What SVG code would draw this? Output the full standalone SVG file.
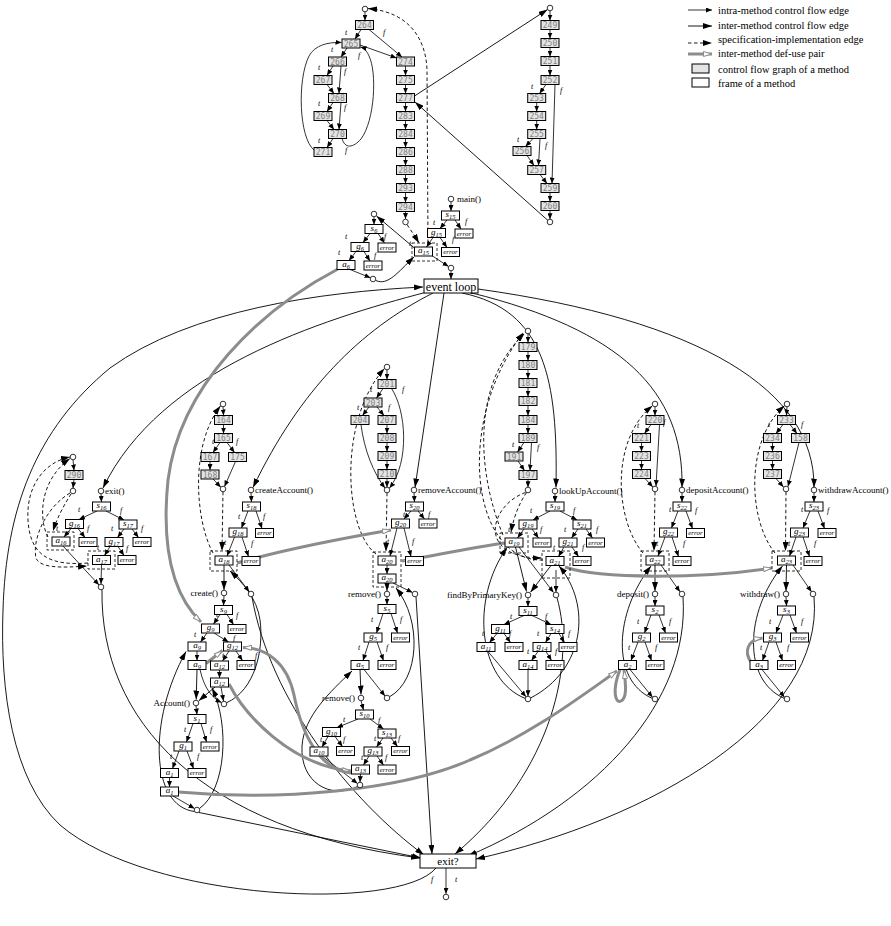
<svg xmlns="http://www.w3.org/2000/svg" width="891" height="926" viewBox="0 0 891 926">
<defs>
<style>
.n rect{fill:#fff;stroke:#000;stroke-width:1}
.n text{font-family:"Liberation Serif",serif;font-style:italic;font-size:9px;text-anchor:middle;fill:#000}
.n .s{font-size:6.5px}
.er text{font-size:7px}
.c rect{fill:#e4e4e4;stroke:#000;stroke-width:1}
.c text{font-family:"DejaVu Sans Mono",monospace;font-size:8px;fill:#808080;text-anchor:middle}
circle{fill:#fff;stroke:#000;stroke-width:0.8}
.fr{fill:none;stroke:#000;stroke-width:0.8;stroke-dasharray:3,2}
.e{fill:none;stroke:#000;stroke-width:0.8;marker-end:url(#ma)}
.i{fill:none;stroke:#000;stroke-width:0.9;marker-end:url(#mb)}
.d{fill:none;stroke:#000;stroke-width:0.9;stroke-dasharray:3.5,2.5;marker-end:url(#mb)}
.u{fill:none;stroke:#8c8c8c;stroke-width:3;marker-end:url(#mo)}
.l{font-family:"Liberation Serif",serif;font-style:italic;font-size:8px;fill:#000}
.t{font-family:"Liberation Serif",serif;font-size:9px;fill:#000}
.te{font-family:"Liberation Serif",serif;font-size:9px;text-anchor:end;fill:#000}
.lg{font-family:"Liberation Serif",serif;font-size:10.5px;fill:#000}
</style>
<marker id="ma" viewBox="0 0 6 5" refX="6" refY="2.5" markerWidth="6" markerHeight="5" markerUnits="userSpaceOnUse" orient="auto"><path d="M0,0L6,2.5L0,5z"/></marker>
<marker id="mb" viewBox="0 0 9 6" refX="9" refY="3" markerWidth="9" markerHeight="6" markerUnits="userSpaceOnUse" orient="auto"><path d="M0,0L9,3L0,6z"/></marker>
<marker id="mo" viewBox="0 0 9 6" refX="9" refY="3" markerWidth="9" markerHeight="6" markerUnits="userSpaceOnUse" orient="auto"><path d="M0.5,0.5L8.5,3L0.5,5.5z" fill="#fff" stroke="#8c8c8c"/></marker>
</defs>
<rect width="891" height="926" fill="#fff"/>

<!-- legend -->
<g id="legend">
<path class="e" d="M688,10L712,10"/>
<path class="i" d="M688,26L712,26"/>
<path class="d" d="M688,43L712,43"/>
<path class="u" d="M688,54L712,54"/>
<rect x="692" y="64" width="17" height="9" fill="#e4e4e4" stroke="#000"/>
<rect x="692" y="78" width="17" height="9" fill="#fff" stroke="#000"/>
<text class="lg" x="718" y="13.5">intra-method control flow edge</text>
<text class="lg" x="718" y="28.5">inter-method control flow edge</text>
<text class="lg" x="718" y="43">specification-implementation edge</text>
<text class="lg" x="718" y="57">inter-method def-use pair</text>
<text class="lg" x="718" y="72.5">control flow graph of a method</text>
<text class="lg" x="718" y="86.5">frame of a method</text>
</g>

<!-- connectors -->
<g id="connectors">
<!-- top-left CFG -->
<path class="e" d="M365,11.8L365,20.5"/>
<path class="e" d="M361,29.5L355,39"/>
<path class="e" d="M369,29.5L402,57"/>
<path class="e" d="M360,45L396.5,58"/>
<path class="e" d="M347,48L341,57"/>
<path class="e" d="M333,66L327,75.5"/>
<path class="e" d="M341,66L339,93.5"/>
<path class="e" d="M327,84.5L334,93.5"/>
<path class="e" d="M333,102.5L327,111.5"/>
<path class="e" d="M341,102.5L339,129.5"/>
<path class="e" d="M327,120.5L334,129.5"/>
<path class="e" d="M333,138.5L327,147.5"/>
<path class="e" d="M342,138.5C345,149 353,148 361,139C375,120 377,72 369,56C367,51 364,48 360.5,47"/>
<path class="e" d="M314,150C299,138 297,80 309,56C315,45 328,42 341.5,42.5"/>
<path class="e" d="M405.5,66L405.5,75.5"/>
<path class="e" d="M405.5,84.5L405.5,93.5"/>
<path class="e" d="M405.5,102.5L405.5,111.5"/>
<path class="e" d="M405.5,120.5L405.5,129.5"/>
<path class="e" d="M405.5,138.5L405.5,147.5"/>
<path class="e" d="M405.5,156.5L405.5,165.5"/>
<path class="e" d="M405.5,174.5L405.5,183.5"/>
<path class="e" d="M405.5,192.5L405.5,202.5"/>
<path class="e" d="M405.5,211.5L405.5,219"/>
<path class="i" d="M414.5,96L547.5,9.5"/>
<path class="i" d="M548,220.5L415,102"/>
<!-- top-right CFG -->
<path class="e" d="M550,10.8L550,20.5"/>
<path class="e" d="M550,29.5L550,38.5"/>
<path class="e" d="M550,47.5L550,56.5"/>
<path class="e" d="M550,65.5L550,75.5"/>
<path class="e" d="M546,84.5L539.5,93.5"/>
<path class="e" d="M555,84.5L552,183.5"/>
<path class="e" d="M536.7,102.5L536.7,111.5"/>
<path class="e" d="M536.7,120.5L536.7,129.5"/>
<path class="e" d="M533,138.5L525.5,146.5"/>
<path class="e" d="M540,138.5L538.5,165.5"/>
<path class="e" d="M527,155.5L534,165.5"/>
<path class="e" d="M540,174.5L547,183.5"/>
<path class="e" d="M550,192.5L550,201.5"/>
<path class="e" d="M550,210.5L550,219.2"/>
<!-- main -->
<path class="e" d="M451,201.8L451,211"/>
<path class="e" d="M447,220L440,228.5"/>
<path class="e" d="M455,220L461,229"/>
<path class="e" d="M433,237.5L426.5,247"/>
<path class="e" d="M440,237.5L447,247.5"/>
<path class="e" d="M431,255L448.5,266.5"/>
<path class="e" d="M451,270.8L451,279"/>
<path class="i" d="M415,248.5L376.5,216"/>
<path class="i" d="M375.8,280.5C388,286 398,272 414,257"/>
<path class="d" d="M428,243L427,70C426,40 410,12 368,8.6"/>
<path class="d" d="M407,224.5C412,232 416,238 419,243"/>
<!-- s6 -->
<path class="e" d="M374,216.8L374,224.5"/>
<path class="e" d="M370,233.5L363,242.5"/>
<path class="e" d="M378,233.5L384.5,243"/>
<path class="e" d="M356,251.5L349,260.5"/>
<path class="e" d="M364,251.5L370,261"/>
<path class="e" d="M350,269.5L370.5,277.8"/>
<!-- event loop -->
<path class="i" d="M427,292C320,320 160,370 103,488"/>
<path class="i" d="M433,293C360,330 300,390 253,487.5"/>
<path class="i" d="M444,293L415,487.5"/>
<path class="i" d="M462,293C545,310 558,380 556,487.5"/>
<path class="i" d="M472,293C620,330 684,390 682,487.5"/>
<path class="i" d="M478,289C700,320 815,390 814,487.5"/>
<path class="i" d="M436,868C400,912 150,902 60,825C12,780 0,690 3,610C6,510 35,430 110,368C190,310 320,292 423,287"/>
<path class="e" d="M446,868L446,893.8"/>
<!-- exit() -->
<path class="e" d="M101,493.8L101.5,502"/>
<path class="e" d="M97,511L79,519.5"/>
<path class="e" d="M106,511L124,520"/>
<path class="e" d="M71,528.5L64,537"/>
<path class="e" d="M78,528.5L85,537.5"/>
<path class="e" d="M124,529L117.5,537.5"/>
<path class="e" d="M132,529L138.5,537.5"/>
<path class="e" d="M110,546.5L104.5,555.5"/>
<path class="e" d="M118,546.5L124,555.5"/>
<path class="e" d="M63,546L99,585"/>
<path class="e" d="M101.5,564.5L101,584"/>
<path class="e" d="M73,459.8L74,470.5"/>
<path class="e" d="M74,479.5L73,488.2"/>
<path class="d" d="M71,494C64,505 57,518 53,531"/>
<path class="d" d="M70,493C45,508 32,540 36,558C40,568 60,568 87,566"/>
<path class="d" d="M48,537C38,518 40,480 70,458.5"/>
<path class="d" d="M88,563C50,566 30,556 28,520C26,485 45,462 70,457"/>
<path class="i" d="M102,590C100,720 200,830 420,858"/>
<!-- createAccount -->
<path class="e" d="M251,492.8L251.5,502"/>
<path class="e" d="M248,511L241.5,528"/>
<path class="e" d="M256,511L262,528.5"/>
<path class="e" d="M234.5,537L227,556"/>
<path class="e" d="M242,537L248.5,556.5"/>
<path class="e" d="M223,406.8L223.5,415.5"/>
<path class="e" d="M223.5,424.5L223.5,433.5"/>
<path class="e" d="M220,442.5L213,452.5"/>
<path class="e" d="M227,442.5L234.5,452.5"/>
<path class="e" d="M210,461.5L210,470"/>
<path class="e" d="M213,479L220.8,487.2"/>
<path class="e" d="M235.5,461.5L224.5,486.5"/>
<path class="d" d="M213,553C195,520 190,445 220.5,406"/>
<path class="d" d="M223,491.8L222,551"/>
<path class="i" d="M224,565L224,590"/>
<path class="e" d="M229,565L249.2,591.8"/>
<path class="i" d="M226.5,702.8C255,690 264,650 260,620C257,598 242,582 230,571"/>
<path class="i" d="M252,597C270,700 350,800 424,855"/>
<!-- create -->
<path class="e" d="M224,595.8L223.5,605.5"/>
<path class="e" d="M220,614.5L213.5,624"/>
<path class="e" d="M227,614.5L233.5,624.5"/>
<path class="e" d="M207,633L200.5,642"/>
<path class="e" d="M214,633L228.5,642"/>
<path class="e" d="M197,651L197,660.5"/>
<path class="e" d="M229,651L222.5,661"/>
<path class="e" d="M236,651L242.5,660.5"/>
<path class="e" d="M219.5,670L219.5,678"/>
<path class="i" d="M197,669.5L196.2,699.5"/>
<path class="i" d="M215,687L198.8,700.8"/>
<path class="e" d="M221,687L223.5,701"/>
<path class="e" d="M200,669.5C204,688 212,698 221.5,702.5"/>
<path class="i" d="M194.5,811.5C150,806 148,720 186,651.5"/>
<path class="i" d="M199.5,808.5C226,790 230,725 212,688"/>
<!-- Account -->
<path class="e" d="M196,705.8L197,714.5"/>
<path class="e" d="M193,723.5L186.5,742"/>
<path class="e" d="M201,723.5L206.5,742"/>
<path class="e" d="M179,751L172.5,768.5"/>
<path class="e" d="M187,751L193.5,768.5"/>
<path class="e" d="M169.5,777.5L169.5,787"/>
<path class="e" d="M173,796L194.5,808.5"/>
<path class="i" d="M199,812.5L421,858"/>
<!-- removeAccount -->
<path class="e" d="M414,492.8L414.5,502"/>
<path class="e" d="M411,511L404,519"/>
<path class="e" d="M418,511L424.5,519"/>
<path class="e" d="M397,528L390,556"/>
<path class="e" d="M404,528L411,556.5"/>
<path class="e" d="M387,565L387,574"/>
<path class="e" d="M387,369.8L387,379.5"/>
<path class="e" d="M383,388.5L376.5,398"/>
<path class="e" d="M391.5,388.5C406,410 410,462 389.5,488"/>
<path class="e" d="M369,407L362.5,415.5"/>
<path class="e" d="M377,407L384,415.5"/>
<path class="e" d="M361,424.5C364,450 374,474 385,488"/>
<path class="e" d="M387,424.5L387,433.5"/>
<path class="e" d="M387,442.5L387,451.5"/>
<path class="e" d="M387,460.5L387,469.5"/>
<path class="e" d="M387,478.5L387,487.2"/>
<path class="d" d="M376,554C344,530 338,420 384.5,368.5"/>
<path class="d" d="M387,492.8L386,551.5"/>
<path class="i" d="M387,583L387,591"/>
<path class="e" d="M393,583L412.5,592.5"/>
<path class="i" d="M389.5,696.8C420,680 422,620 396,588"/>
<path class="i" d="M416,596.8L432,854"/>
<!-- remove s5 -->
<path class="e" d="M387,596.8L387,604.5"/>
<path class="e" d="M383,613.5L376.5,633"/>
<path class="e" d="M391,613.5L397.5,633"/>
<path class="e" d="M369,642L363,660.5"/>
<path class="e" d="M377,642L383.5,660.5"/>
<path class="i" d="M360,669.5L361,694.5"/>
<path class="e" d="M364,669.5L385,696"/>
<path class="i" d="M357.5,786.5C330,800 300,782 302,746C304,716 330,692 352,671"/>
<!-- remove s10 -->
<path class="e" d="M361,700.8L363.5,710"/>
<path class="e" d="M358,719L337,727.5"/>
<path class="e" d="M370,719L383.5,729"/>
<path class="e" d="M328,736.5L322,747"/>
<path class="e" d="M335,736.5L342.5,746.5"/>
<path class="e" d="M383,738L376.5,747"/>
<path class="e" d="M391,738L397.5,746.5"/>
<path class="e" d="M369,756L363.5,765"/>
<path class="e" d="M377,756L383.5,765"/>
<path class="e" d="M322,756L357.5,783.5"/>
<path class="e" d="M360.5,774L360,782.2"/>
<!-- lookUp -->
<path class="e" d="M555,493.8L555,502"/>
<path class="e" d="M550,511L533,520"/>
<path class="e" d="M560,511L577,520"/>
<path class="e" d="M524,529L517.5,538"/>
<path class="e" d="M532,529L538.5,538"/>
<path class="e" d="M578,529L571.5,538"/>
<path class="e" d="M586,529L592.5,538"/>
<path class="e" d="M564,547L558.5,556.5"/>
<path class="e" d="M572,547L578.5,556.5"/>
<path class="e" d="M528,333.8L528,342.5"/>
<path class="e" d="M528,351.5L528,360.5"/>
<path class="e" d="M528,369.5L528,378.5"/>
<path class="e" d="M528,387.5L528,396.5"/>
<path class="e" d="M528,405.5L528,415.5"/>
<path class="e" d="M528,424.5L528,433.5"/>
<path class="e" d="M524,442.5L517.5,452"/>
<path class="e" d="M531.5,442.5L530,470.5"/>
<path class="e" d="M518,461L524.5,470.5"/>
<path class="e" d="M528,479.5L528,487.2"/>
<path class="d" d="M503,535C478,475 470,385 524.5,333.5"/>
<path class="d" d="M543,560C470,562 455,420 523.5,332.5"/>
<path class="d" d="M526.5,492.6C518,505 513,520 511,532.5"/>
<path class="d" d="M525.5,492.5C490,505 475,558 541.5,558"/>
<path class="i" d="M515.5,547L526.5,591.5"/>
<path class="i" d="M551,565.5L530.5,592.2"/>
<path class="e" d="M519,547L553.5,592.5"/>
<path class="e" d="M556,570L556,592"/>
<path class="i" d="M525.5,698.5C478,680 470,600 507,547.5"/>
<path class="i" d="M530.5,698C585,670 592,605 559,566"/>
<path class="i" d="M557,597.8C575,660 555,770 455,854"/>
<!-- findBy -->
<path class="e" d="M528,597.8L528,606.5"/>
<path class="e" d="M524,615.5L504,624.5"/>
<path class="e" d="M532,615.5L551,624.5"/>
<path class="e" d="M497,633.5L489.5,642.5"/>
<path class="e" d="M504,633.5L510.5,642.5"/>
<path class="e" d="M551,633.5L545.5,642.5"/>
<path class="e" d="M559,633.5L564.5,642.5"/>
<path class="e" d="M538,651.5L531.5,660.5"/>
<path class="e" d="M546,651.5L551.5,660.5"/>
<path class="e" d="M488,651.5L526,696.8"/>
<path class="e" d="M528,669.5L528,696.2"/>
<!-- depositAccount -->
<path class="e" d="M682,492.8L682,502"/>
<path class="e" d="M678,511L671.5,528"/>
<path class="e" d="M686,511L692.5,528.5"/>
<path class="e" d="M665,537L658,556"/>
<path class="e" d="M672,537L678.5,556.5"/>
<path class="e" d="M655,406.8L655,415.5"/>
<path class="e" d="M651,424.5L644.5,433.5"/>
<path class="e" d="M659.5,424.5L656,486.2"/>
<path class="e" d="M641.5,442.5L641.5,451.5"/>
<path class="e" d="M641.5,460.5L641.5,469.5"/>
<path class="e" d="M645,478.5L652.8,487"/>
<path class="d" d="M643,553C615,520 610,440 652.5,405.8"/>
<path class="d" d="M655,491.8L654,551"/>
<path class="i" d="M655,565L655,591"/>
<path class="e" d="M661,565L680,591.8"/>
<path class="i" d="M652.5,698.5C610,680 615,612 651,566"/>
<path class="i" d="M683,596.8C690,700 600,800 468,856"/>
<!-- deposit -->
<path class="e" d="M655,596.8L655,606"/>
<path class="e" d="M651,615L644.5,633"/>
<path class="e" d="M659,615L665.5,633"/>
<path class="e" d="M638,642L631,660.5"/>
<path class="e" d="M645,642L651.5,660.5"/>
<path class="e" d="M630,669.5L652.5,697.2"/>
<!-- withdrawAccount -->
<path class="e" d="M814,492.8L814,502"/>
<path class="e" d="M810,511L803,528"/>
<path class="e" d="M818,511L824.5,528.5"/>
<path class="e" d="M796,537L789.5,556"/>
<path class="e" d="M803,537L809.5,556.5"/>
<path class="e" d="M787,406.8L786.5,415.5"/>
<path class="e" d="M783,424.5L776,433.5"/>
<path class="e" d="M790,424.5L797,433.5"/>
<path class="e" d="M772.5,442.5L772.5,451.5"/>
<path class="e" d="M772.5,460.5L772.5,469.5"/>
<path class="e" d="M776,478.5L783.5,487"/>
<path class="e" d="M799,442.5L788,486.5"/>
<path class="d" d="M775,553C748,520 745,440 784.5,405.8"/>
<path class="d" d="M786,491.8L785.5,551"/>
<path class="i" d="M786.5,565L786,591"/>
<path class="e" d="M793,565L811.5,591.8"/>
<path class="i" d="M784.5,698.5C742,680 745,612 782.5,566"/>
<path class="i" d="M814,596.8C825,720 650,820 476,859"/>
<!-- withdraw -->
<path class="e" d="M786,596.8L786.5,606"/>
<path class="e" d="M783,615L776,633"/>
<path class="e" d="M790,615L796.5,633"/>
<path class="e" d="M769,642L762.5,660.5"/>
<path class="e" d="M776,642L782.5,660.5"/>
<path class="e" d="M762,669.5L784.5,697.2"/>
<!-- def-use pairs -->
<path class="u" d="M338,269C260,310 180,385 168,480C160,560 178,600 201,622"/>
<path class="u" d="M237,563C290,548 350,537 391,530"/>
<path class="u" d="M505,543C470,548 432,556 402,561"/>
<path class="u" d="M565,567C600,579 700,579 772,568"/>
<path class="u" d="M229,684C245,715 290,765 351,771"/>
<path class="u" d="M351,773C320,770 302,735 294,695C287,662 266,648 243,647.5"/>
<path class="u" d="M178,792C280,801 400,791 470,760C530,735 580,697 617,671"/>
<path class="u" d="M620,669.5C612,690 615,704 621,701C627,698 626,686 624,670"/>
<path class="u" d="M206,663.5L222.5,650.5"/>
<path class="u" d="M751,662C744,652 747,640 762.5,638"/>
</g>

<!-- edge labels -->
<g id="labels">
<text class="l" x="345" y="35">t</text><text class="l" x="383" y="35">f</text>
<text class="l" x="331" y="52">t</text><text class="l" x="358" y="58">f</text>
<text class="l" x="318" y="70">t</text><text class="l" x="344" y="74">f</text>
<text class="l" x="318" y="106">t</text><text class="l" x="344" y="110">f</text>
<text class="l" x="318" y="143">t</text><text class="l" x="345" y="153">f</text>
<text class="l" x="531" y="89">t</text><text class="l" x="560" y="93">f</text>
<text class="l" x="517" y="142">t</text><text class="l" x="545" y="148">f</text>
<text class="l" x="433" y="225">t</text><text class="l" x="465" y="224">f</text>
<text class="l" x="409" y="246">t</text><text class="l" x="452" y="242">f</text>
<text class="l" x="345" y="239">t</text><text class="l" x="384" y="239">f</text>
<text class="l" x="338" y="255">t</text><text class="l" x="374" y="258">f</text>
<text class="l" x="431" y="882">f</text><text class="l" x="455" y="882">t</text>
<text class="l" x="78" y="512">t</text><text class="l" x="120" y="513">f</text>
<text class="l" x="56" y="531">t</text><text class="l" x="87" y="531">f</text>
<text class="l" x="111" y="531">t</text><text class="l" x="141" y="531">f</text>
<text class="l" x="97" y="550">t</text><text class="l" x="126" y="551">f</text>
<text class="l" x="238" y="519">t</text><text class="l" x="263" y="519">f</text>
<text class="l" x="224" y="545">t</text><text class="l" x="251" y="546">f</text>
<text class="l" x="212" y="444">t</text><text class="l" x="236" y="444">f</text>
<text class="l" x="216" y="617">t</text><text class="l" x="236" y="618">f</text>
<text class="l" x="194" y="637">t</text><text class="l" x="233" y="641">f</text>
<text class="l" x="222" y="658">t</text><text class="l" x="255" y="658">f</text>
<text class="l" x="184" y="732">t</text><text class="l" x="210" y="732">f</text>
<text class="l" x="170" y="759">t</text><text class="l" x="197" y="759">f</text>
<text class="l" x="403" y="517">t</text><text class="l" x="428" y="517">f</text>
<text class="l" x="387" y="544">t</text><text class="l" x="412" y="544">f</text>
<text class="l" x="370" y="392">t</text><text class="l" x="402" y="392">f</text>
<text class="l" x="357" y="410">t</text><text class="l" x="388" y="410">f</text>
<text class="l" x="371" y="622">t</text><text class="l" x="400" y="622">f</text>
<text class="l" x="358" y="650">t</text><text class="l" x="386" y="650">f</text>
<text class="l" x="343" y="722">t</text><text class="l" x="378" y="723">f</text>
<text class="l" x="320" y="742">t</text><text class="l" x="343" y="742">f</text>
<text class="l" x="374" y="741">t</text><text class="l" x="398" y="741">f</text>
<text class="l" x="361" y="760">t</text><text class="l" x="385" y="760">f</text>
<text class="l" x="530" y="513">t</text><text class="l" x="573" y="513">f</text>
<text class="l" x="508" y="532">t</text><text class="l" x="540" y="532">f</text>
<text class="l" x="564" y="532">t</text><text class="l" x="596" y="532">f</text>
<text class="l" x="553" y="550">t</text><text class="l" x="582" y="550">f</text>
<text class="l" x="512" y="447">t</text><text class="l" x="537" y="450">f</text>
<text class="l" x="510" y="619">t</text><text class="l" x="545" y="619">f</text>
<text class="l" x="482" y="636">t</text><text class="l" x="509" y="636">f</text>
<text class="l" x="537" y="636">t</text><text class="l" x="568" y="636">f</text>
<text class="l" x="527" y="654">t</text><text class="l" x="555" y="654">f</text>
<text class="l" x="669" y="512">t</text><text class="l" x="695" y="513">f</text>
<text class="l" x="656" y="546">t</text><text class="l" x="683" y="546">f</text>
<text class="l" x="637" y="428">t</text><text class="l" x="663" y="425">f</text>
<text class="l" x="637" y="624">t</text><text class="l" x="669" y="624">f</text>
<text class="l" x="628" y="650">t</text><text class="l" x="655" y="650">f</text>
<text class="l" x="801" y="512">t</text><text class="l" x="827" y="513">f</text>
<text class="l" x="788" y="546">t</text><text class="l" x="814" y="546">f</text>
<text class="l" x="768" y="427">t</text><text class="l" x="801" y="427">f</text>
<text class="l" x="769" y="624">t</text><text class="l" x="801" y="624">f</text>
<text class="l" x="760" y="650">t</text><text class="l" x="787" y="650">f</text>
</g>

<!-- top-left CFG nodes -->
<g id="cfgTL">
<circle cx="365" cy="9" r="2.8"/><circle cx="405.5" cy="222" r="2.8"/>
<g id="c264" class="c"><rect x="355.5" y="20.5" width="18" height="9"/><text x="364.5" y="28">264</text></g>
<g id="c265" class="c"><rect x="342" y="39" width="18" height="9"/><text x="351" y="46.5">265</text></g>
<g id="c266" class="c"><rect x="328.5" y="57" width="18" height="9"/><text x="337.5" y="64.5">266</text></g>
<g id="c267" class="c"><rect x="314" y="75.5" width="18" height="9"/><text x="323" y="83">267</text></g>
<g id="c268" class="c"><rect x="328.5" y="93.5" width="18" height="9"/><text x="337.5" y="101">268</text></g>
<g id="c269" class="c"><rect x="314" y="111.5" width="18" height="9"/><text x="323" y="119">269</text></g>
<g id="c270" class="c"><rect x="328.5" y="129.5" width="18" height="9"/><text x="337.5" y="137">270</text></g>
<g id="c271" class="c"><rect x="314" y="147.5" width="18" height="9"/><text x="323" y="155">271</text></g>
<g id="c274" class="c"><rect x="396.5" y="57" width="18" height="9"/><text x="405.5" y="64.5">274</text></g>
<g id="c275" class="c"><rect x="396.5" y="75.5" width="18" height="9"/><text x="405.5" y="83">275</text></g>
<g id="c277" class="c"><rect x="396.5" y="93.5" width="18" height="9"/><text x="405.5" y="101">277</text></g>
<g id="c283" class="c"><rect x="396.5" y="111.5" width="18" height="9"/><text x="405.5" y="119">283</text></g>
<g id="c284" class="c"><rect x="396.5" y="129.5" width="18" height="9"/><text x="405.5" y="137">284</text></g>
<g id="c286" class="c"><rect x="396.5" y="147.5" width="18" height="9"/><text x="405.5" y="155">286</text></g>
<g id="c288" class="c"><rect x="396.5" y="165.5" width="18" height="9"/><text x="405.5" y="173">288</text></g>
<g id="c293" class="c"><rect x="396.5" y="183.5" width="18" height="9"/><text x="405.5" y="191">293</text></g>
<g id="c294" class="c"><rect x="396.5" y="202.5" width="18" height="9"/><text x="405.5" y="210">294</text></g>
</g>

<!-- top-right CFG nodes -->
<g id="cfgTR">
<circle cx="550" cy="8" r="2.8"/><circle cx="550" cy="222" r="2.8"/>
<g id="c249" class="c"><rect x="541" y="20.5" width="18" height="9"/><text x="550" y="28">249</text></g>
<g id="c250" class="c"><rect x="541" y="38.5" width="18" height="9"/><text x="550" y="46">250</text></g>
<g id="c251" class="c"><rect x="541" y="56.5" width="18" height="9"/><text x="550" y="64">251</text></g>
<g id="c252" class="c"><rect x="541" y="75.5" width="18" height="9"/><text x="550" y="83">252</text></g>
<g id="c253" class="c"><rect x="527.7" y="93.5" width="18" height="9"/><text x="536.7" y="101">253</text></g>
<g id="c254" class="c"><rect x="527.7" y="111.5" width="18" height="9"/><text x="536.7" y="119">254</text></g>
<g id="c255" class="c"><rect x="527.7" y="129.5" width="18" height="9"/><text x="536.7" y="137">255</text></g>
<g id="c256" class="c"><rect x="513" y="146.5" width="18" height="9"/><text x="522" y="154">256</text></g>
<g id="c257" class="c"><rect x="527.7" y="165.5" width="18" height="9"/><text x="536.7" y="173">257</text></g>
<g id="c259" class="c"><rect x="541" y="183.5" width="18" height="9"/><text x="550" y="191">259</text></g>
<g id="c260" class="c"><rect x="541" y="201.5" width="18" height="9"/><text x="550" y="209">260</text></g>
</g>

<!-- main -->
<g id="main">
<circle cx="451" cy="199" r="2.8"/><text class="t" x="457" y="202">main()</text>
<circle cx="451" cy="268" r="2.8"/>
<rect class="fr" x="412" y="243" width="25" height="18"/>
<g id="s15" class="n"><rect x="441.5" y="211" width="18" height="9"/><text x="450.5" y="217">s<tspan class="s" dy="2">15</tspan></text></g>
<g id="g15" class="n"><rect x="427.5" y="228.5" width="18" height="9"/><text x="436.5" y="234.5">g<tspan class="s" dy="2">15</tspan></text></g>
<g id="e15a" class="n er"><rect x="455" y="229" width="18" height="9"/><text x="464" y="235.8">error</text></g>
<g id="a15" class="n"><rect x="414.5" y="247" width="18" height="9"/><text x="423.5" y="253">a<tspan class="s" dy="2">15</tspan></text></g>
<g id="e15b" class="n er"><rect x="441.5" y="247.5" width="18" height="9"/><text x="450.5" y="254.3">error</text></g>
</g>

<g id="m6">
<circle cx="374" cy="214" r="2.8"/><circle cx="373" cy="279" r="2.8"/>
<g id="s6" class="n"><rect x="365" y="224.5" width="18" height="9"/><text x="374" y="230.5">s<tspan class="s" dy="2">6</tspan></text></g>
<g id="g6" class="n"><rect x="351" y="242.5" width="18" height="9"/><text x="360" y="248.5">g<tspan class="s" dy="2">6</tspan></text></g>
<g id="e6a" class="n er"><rect x="378" y="243" width="18" height="9"/><text x="387" y="249.8">error</text></g>
<g id="a6" class="n"><rect x="337" y="260.5" width="18" height="9"/><text x="346" y="266.5">a<tspan class="s" dy="2">6</tspan></text></g>
<g id="e6b" class="n er"><rect x="364" y="261" width="18" height="9"/><text x="373" y="267.8">error</text></g>
</g>

<g id="eventloop"><rect x="424" y="279" width="54" height="14" fill="#fff" stroke="#000"/><text x="451" y="290.5" font-family="Liberation Serif, serif" font-size="12" text-anchor="middle">event loop</text></g>
<g id="exitq"><rect x="420" y="854" width="56" height="14" fill="#fff" stroke="#000"/><text x="448" y="865" font-family="Liberation Serif, serif" font-size="11" text-anchor="middle">exit?</text></g>
<g id="final"><circle cx="446" cy="897" r="2.8"/></g>

<!-- exit() -->
<g id="mExit">
<circle cx="73" cy="457" r="2.8"/><circle cx="73" cy="491" r="2.8"/>
<g id="c290" class="c"><rect x="65" y="470.5" width="18" height="9"/><text x="74" y="478">290</text></g>
<circle cx="101" cy="491" r="2.8"/><text class="t" x="105" y="494">exit()</text>
<circle cx="101" cy="587" r="2.8"/>
<rect class="fr" x="47" y="532" width="27" height="18"/>
<rect class="fr" x="88" y="551" width="27" height="18"/>
<g id="s16" class="n"><rect x="92.5" y="502" width="18" height="9"/><text x="101.5" y="508">s<tspan class="s" dy="2">16</tspan></text></g>
<g id="g16" class="n"><rect x="65.5" y="519.5" width="18" height="9"/><text x="74.5" y="525.5">g<tspan class="s" dy="2">16</tspan></text></g>
<g id="s17" class="n"><rect x="119" y="520" width="18" height="9"/><text x="128" y="526">s<tspan class="s" dy="2">17</tspan></text></g>
<g id="a16" class="n"><rect x="52" y="537" width="18" height="9"/><text x="61" y="543">a<tspan class="s" dy="2">16</tspan></text></g>
<g id="e16a" class="n er"><rect x="79" y="537.5" width="18" height="9"/><text x="88" y="544.3">error</text></g>
<g id="g17" class="n"><rect x="105" y="537.5" width="18" height="9"/><text x="114" y="543.5">g<tspan class="s" dy="2">17</tspan></text></g>
<g id="e17a" class="n er"><rect x="133" y="537.5" width="18" height="9"/><text x="142" y="544.3">error</text></g>
<g id="a17" class="n"><rect x="92.5" y="555.5" width="18" height="9"/><text x="101.5" y="561.5">a<tspan class="s" dy="2">17</tspan></text></g>
<g id="e17b" class="n er"><rect x="118" y="555.5" width="18" height="9"/><text x="127" y="562.3">error</text></g>
</g>

<!-- createAccount -->
<g id="mCreateAccount">
<circle cx="223" cy="404" r="2.8"/><circle cx="223" cy="489" r="2.8"/>
<g id="c164" class="c"><rect x="214.5" y="415.5" width="18" height="9"/><text x="223.5" y="423">164</text></g>
<g id="c165" class="c"><rect x="214.5" y="433.5" width="18" height="9"/><text x="223.5" y="441">165</text></g>
<g id="c167" class="c"><rect x="201" y="452.5" width="18" height="9"/><text x="210" y="460">167</text></g>
<g id="c175" class="c"><rect x="228.5" y="452.5" width="18" height="9"/><text x="237.5" y="460">175</text></g>
<g id="c168" class="c"><rect x="201" y="470" width="18" height="9"/><text x="210" y="477.5">168</text></g>
<circle cx="251" cy="490" r="2.8"/><text class="t" x="255" y="493">createAccount()</text>
<circle cx="224" cy="593" r="2.8"/><text class="te" x="218" y="596">create()</text>
<circle cx="251" cy="594" r="2.8"/>
<rect class="fr" x="210" y="551" width="27" height="20"/>
<g id="s18" class="n"><rect x="242.5" y="502" width="18" height="9"/><text x="251.5" y="508">s<tspan class="s" dy="2">18</tspan></text></g>
<g id="g18" class="n"><rect x="229" y="528" width="18" height="9"/><text x="238" y="534">g<tspan class="s" dy="2">18</tspan></text></g>
<g id="e18a" class="n er"><rect x="255.5" y="528.5" width="18" height="9"/><text x="264.5" y="535.3">error</text></g>
<g id="a18" class="n"><rect x="215" y="556" width="18" height="9"/><text x="224" y="562">a<tspan class="s" dy="2">18</tspan></text></g>
<g id="e18b" class="n er"><rect x="242" y="556.5" width="18" height="9"/><text x="251" y="563.3">error</text></g>
</g>

<g id="mCreate">
<circle cx="196" cy="703" r="2.8"/><text class="te" x="190" y="706">Account()</text>
<circle cx="224" cy="704" r="2.8"/>
<g id="s9" class="n"><rect x="214.5" y="605.5" width="18" height="9"/><text x="223.5" y="611.5">s<tspan class="s" dy="2">9</tspan></text></g>
<g id="g9" class="n"><rect x="201.5" y="624" width="18" height="9"/><text x="210.5" y="630">g<tspan class="s" dy="2">9</tspan></text></g>
<g id="e9a" class="n er"><rect x="228" y="624.5" width="18" height="9"/><text x="237" y="631.3">error</text></g>
<g id="a9" class="n"><rect x="188" y="642" width="18" height="9"/><text x="197" y="648">a<tspan class="s" dy="2">9</tspan></text></g>
<g id="g12" class="n"><rect x="223.5" y="642" width="18" height="9"/><text x="232.5" y="648">g<tspan class="s" dy="2">12</tspan></text></g>
<g id="a9b" class="n"><rect x="188" y="660.5" width="18" height="9"/><text x="197" y="666.5">a<tspan class="s" dy="2">9</tspan></text></g>
<g id="a12" class="n"><rect x="210.5" y="661" width="18" height="9"/><text x="219.5" y="667">a<tspan class="s" dy="2">12</tspan></text></g>
<g id="e12a" class="n er"><rect x="237" y="660.5" width="18" height="9"/><text x="246" y="667.3">error</text></g>
<g id="a12b" class="n"><rect x="210.5" y="678" width="18" height="9"/><text x="219.5" y="684">a<tspan class="s" dy="2">12</tspan></text></g>
</g>

<g id="mAccount">
<circle cx="197" cy="810" r="2.8"/>
<g id="s1" class="n"><rect x="188" y="714.5" width="18" height="9"/><text x="197" y="720.5">s<tspan class="s" dy="2">1</tspan></text></g>
<g id="g1" class="n"><rect x="174" y="742" width="18" height="9"/><text x="183" y="748">g<tspan class="s" dy="2">1</tspan></text></g>
<g id="e1a" class="n er"><rect x="201" y="742" width="18" height="9"/><text x="210" y="748.8">error</text></g>
<g id="a1" class="n"><rect x="160.5" y="768.5" width="18" height="9"/><text x="169.5" y="774.5">a<tspan class="s" dy="2">1</tspan></text></g>
<g id="e1b" class="n er"><rect x="188" y="768.5" width="18" height="9"/><text x="197" y="775.3">error</text></g>
<g id="a1b" class="n"><rect x="160.5" y="787" width="18" height="9"/><text x="169.5" y="793">a<tspan class="s" dy="2">1</tspan></text></g>
</g>

<!-- removeAccount -->
<g id="mRemoveAccount">
<circle cx="387" cy="367" r="2.8"/><circle cx="387" cy="490" r="2.8"/>
<g id="c201" class="c"><rect x="378" y="379.5" width="18" height="9"/><text x="387" y="387">201</text></g>
<g id="c203" class="c"><rect x="364" y="398" width="18" height="9"/><text x="373" y="405.5">203</text></g>
<g id="c204" class="c"><rect x="351" y="415.5" width="18" height="9"/><text x="360" y="423">204</text></g>
<g id="c207" class="c"><rect x="378" y="415.5" width="18" height="9"/><text x="387" y="423">207</text></g>
<g id="c208" class="c"><rect x="378" y="433.5" width="18" height="9"/><text x="387" y="441">208</text></g>
<g id="c209" class="c"><rect x="378" y="451.5" width="18" height="9"/><text x="387" y="459">209</text></g>
<g id="c210" class="c"><rect x="378" y="469.5" width="18" height="9"/><text x="387" y="477">210</text></g>
<circle cx="414" cy="490" r="2.8"/><text class="t" x="418" y="493">removeAccount()</text>
<circle cx="387" cy="594" r="2.8"/><text class="te" x="381" y="597">remove()</text>
<circle cx="415" cy="594" r="2.8"/>
<rect class="fr" x="373" y="552" width="28" height="35"/>
<g id="s20" class="n"><rect x="405.5" y="502" width="18" height="9"/><text x="414.5" y="508">s<tspan class="s" dy="2">20</tspan></text></g>
<g id="g20" class="n"><rect x="391.5" y="519" width="18" height="9"/><text x="400.5" y="525">g<tspan class="s" dy="2">20</tspan></text></g>
<g id="e20a" class="n er"><rect x="419" y="519" width="18" height="9"/><text x="428" y="525.8">error</text></g>
<g id="a20" class="n"><rect x="378" y="556" width="18" height="9"/><text x="387" y="562">a<tspan class="s" dy="2">20</tspan></text></g>
<g id="e20b" class="n er"><rect x="405.5" y="556.5" width="18" height="9"/><text x="414.5" y="563.3">error</text></g>
<g id="a20b" class="n"><rect x="378" y="574" width="18" height="9"/><text x="387" y="580">a<tspan class="s" dy="2">20</tspan></text></g>
</g>

<g id="mRemove5">
<circle cx="361" cy="698" r="2.8"/><text class="te" x="355" y="701">remove()</text>
<circle cx="387" cy="698" r="2.8"/>
<g id="s5" class="n"><rect x="378" y="604.5" width="18" height="9"/><text x="387" y="610.5">s<tspan class="s" dy="2">5</tspan></text></g>
<g id="g5" class="n"><rect x="364" y="633" width="18" height="9"/><text x="373" y="639">g<tspan class="s" dy="2">5</tspan></text></g>
<g id="e5a" class="n er"><rect x="391.5" y="633" width="18" height="9"/><text x="400.5" y="639.8">error</text></g>
<g id="a5" class="n"><rect x="351" y="660.5" width="18" height="9"/><text x="360" y="666.5">a<tspan class="s" dy="2">5</tspan></text></g>
<g id="e5b" class="n er"><rect x="378" y="660.5" width="18" height="9"/><text x="387" y="667.3">error</text></g>
</g>

<g id="mRemove10">
<circle cx="360" cy="785" r="2.8"/>
<g id="s10" class="n"><rect x="355.5" y="710" width="18" height="9"/><text x="364.5" y="716">s<tspan class="s" dy="2">10</tspan></text></g>
<g id="g10" class="n"><rect x="322.5" y="727.5" width="18" height="9"/><text x="331.5" y="733.5">g<tspan class="s" dy="2">10</tspan></text></g>
<g id="s13" class="n"><rect x="378" y="729" width="18" height="9"/><text x="387" y="735">s<tspan class="s" dy="2">13</tspan></text></g>
<g id="a10" class="n"><rect x="310" y="747" width="18" height="9"/><text x="319" y="753">a<tspan class="s" dy="2">10</tspan></text></g>
<g id="e10a" class="n er"><rect x="336.5" y="746.5" width="18" height="9"/><text x="345.5" y="753.3">error</text></g>
<g id="g13" class="n"><rect x="364" y="747" width="18" height="9"/><text x="373" y="753">g<tspan class="s" dy="2">13</tspan></text></g>
<g id="e13a" class="n er"><rect x="391.5" y="746.5" width="18" height="9"/><text x="400.5" y="753.3">error</text></g>
<g id="a13" class="n"><rect x="351.5" y="765" width="18" height="9"/><text x="360.5" y="771">a<tspan class="s" dy="2">13</tspan></text></g>
<g id="e13b" class="n er"><rect x="378" y="765" width="18" height="9"/><text x="387" y="771.8">error</text></g>
</g>

<!-- lookUpAccount -->
<g id="mLookUp">
<circle cx="528" cy="331" r="2.8"/><circle cx="528" cy="490" r="2.8"/>
<g id="c179" class="c"><rect x="519" y="342.5" width="18" height="9"/><text x="528" y="350">179</text></g>
<g id="c180" class="c"><rect x="519" y="360.5" width="18" height="9"/><text x="528" y="368">180</text></g>
<g id="c181" class="c"><rect x="519" y="378.5" width="18" height="9"/><text x="528" y="386">181</text></g>
<g id="c182" class="c"><rect x="519" y="396.5" width="18" height="9"/><text x="528" y="404">182</text></g>
<g id="c184" class="c"><rect x="519" y="415.5" width="18" height="9"/><text x="528" y="423">184</text></g>
<g id="c189" class="c"><rect x="519" y="433.5" width="18" height="9"/><text x="528" y="441">189</text></g>
<g id="c191" class="c"><rect x="505" y="452" width="18" height="9"/><text x="514" y="459.5">191</text></g>
<g id="c197" class="c"><rect x="519" y="470.5" width="18" height="9"/><text x="528" y="478">197</text></g>
<circle cx="555" cy="491" r="2.8"/><text class="t" x="559" y="494">lookUpAccount()</text>
<circle cx="528" cy="595" r="2.8"/><text class="te" x="522" y="598">findByPrimaryKey()</text>
<circle cx="556" cy="595" r="2.8"/>
<rect class="fr" x="500" y="533" width="28" height="20"/>
<rect class="fr" x="542" y="551" width="28" height="27"/>
<g id="s19" class="n"><rect x="546" y="502" width="18" height="9"/><text x="555" y="508">s<tspan class="s" dy="2">19</tspan></text></g>
<g id="g19" class="n"><rect x="519" y="520" width="18" height="9"/><text x="528" y="526">g<tspan class="s" dy="2">19</tspan></text></g>
<g id="s21" class="n"><rect x="573" y="520" width="18" height="9"/><text x="582" y="526">s<tspan class="s" dy="2">21</tspan></text></g>
<g id="a19" class="n"><rect x="505" y="538" width="18" height="9"/><text x="514" y="544">a<tspan class="s" dy="2">19</tspan></text></g>
<g id="e19a" class="n er"><rect x="533" y="538" width="18" height="9"/><text x="542" y="544.8">error</text></g>
<g id="g21" class="n"><rect x="559" y="538" width="18" height="9"/><text x="568" y="544">g<tspan class="s" dy="2">21</tspan></text></g>
<g id="e21a" class="n er"><rect x="586.5" y="538" width="18" height="9"/><text x="595.5" y="544.8">error</text></g>
<g id="a21" class="n"><rect x="546" y="556.5" width="18" height="9"/><text x="555" y="562.5">a<tspan class="s" dy="2">21</tspan></text></g>
<g id="e21b" class="n er"><rect x="573" y="556.5" width="18" height="9"/><text x="582" y="563.3">error</text></g>
</g>

<g id="mFindBy">
<circle cx="528" cy="699" r="2.8"/>
<g id="s11" class="n"><rect x="519" y="606.5" width="18" height="9"/><text x="528" y="612.5">s<tspan class="s" dy="2">11</tspan></text></g>
<g id="g11" class="n"><rect x="491.5" y="624.5" width="18" height="9"/><text x="500.5" y="630.5">g<tspan class="s" dy="2">11</tspan></text></g>
<g id="s14" class="n"><rect x="546" y="624.5" width="18" height="9"/><text x="555" y="630.5">s<tspan class="s" dy="2">14</tspan></text></g>
<g id="a11" class="n"><rect x="477" y="642.5" width="18" height="9"/><text x="486" y="648.5">a<tspan class="s" dy="2">11</tspan></text></g>
<g id="e11a" class="n er"><rect x="505" y="642.5" width="18" height="9"/><text x="514" y="649.3">error</text></g>
<g id="g14" class="n"><rect x="533" y="642.5" width="18" height="9"/><text x="542" y="648.5">g<tspan class="s" dy="2">14</tspan></text></g>
<g id="e14a" class="n er"><rect x="559" y="642.5" width="18" height="9"/><text x="568" y="649.3">error</text></g>
<g id="a14" class="n"><rect x="519" y="660.5" width="18" height="9"/><text x="528" y="666.5">a<tspan class="s" dy="2">14</tspan></text></g>
<g id="e14b" class="n er"><rect x="546" y="660.5" width="18" height="9"/><text x="555" y="667.3">error</text></g>
</g>

<!-- depositAccount -->
<g id="mDepositAccount">
<circle cx="655" cy="404" r="2.8"/><circle cx="655" cy="489" r="2.8"/>
<g id="c220" class="c"><rect x="646" y="415.5" width="18" height="9"/><text x="655" y="423">220</text></g>
<g id="c221" class="c"><rect x="632.5" y="433.5" width="18" height="9"/><text x="641.5" y="441">221</text></g>
<g id="c223" class="c"><rect x="632.5" y="451.5" width="18" height="9"/><text x="641.5" y="459">223</text></g>
<g id="c224" class="c"><rect x="632.5" y="469.5" width="18" height="9"/><text x="641.5" y="477">224</text></g>
<circle cx="682" cy="490" r="2.8"/><text class="t" x="686" y="493">depositAccount()</text>
<circle cx="655" cy="594" r="2.8"/><text class="te" x="649" y="597">deposit()</text>
<circle cx="682" cy="594" r="2.8"/>
<rect class="fr" x="641" y="551" width="28" height="20"/>
<g id="s22" class="n"><rect x="673" y="502" width="18" height="9"/><text x="682" y="508">s<tspan class="s" dy="2">22</tspan></text></g>
<g id="g22" class="n"><rect x="659.5" y="528" width="18" height="9"/><text x="668.5" y="534">g<tspan class="s" dy="2">22</tspan></text></g>
<g id="e22a" class="n er"><rect x="686.5" y="528.5" width="18" height="9"/><text x="695.5" y="535.3">error</text></g>
<g id="a22" class="n"><rect x="646" y="556" width="18" height="9"/><text x="655" y="562">a<tspan class="s" dy="2">22</tspan></text></g>
<g id="e22b" class="n er"><rect x="673" y="556.5" width="18" height="9"/><text x="682" y="563.3">error</text></g>
</g>

<g id="mDeposit">
<circle cx="655" cy="699" r="2.8"/>
<g id="s2" class="n"><rect x="646" y="606" width="18" height="9"/><text x="655" y="612">s<tspan class="s" dy="2">2</tspan></text></g>
<g id="g2" class="n"><rect x="632.5" y="633" width="18" height="9"/><text x="641.5" y="639">g<tspan class="s" dy="2">2</tspan></text></g>
<g id="e2a" class="n er"><rect x="659.5" y="633" width="18" height="9"/><text x="668.5" y="639.8">error</text></g>
<g id="a2" class="n"><rect x="618.5" y="660.5" width="18" height="9"/><text x="627.5" y="666.5">a<tspan class="s" dy="2">2</tspan></text></g>
<g id="e2b" class="n er"><rect x="646" y="660.5" width="18" height="9"/><text x="655" y="667.3">error</text></g>
</g>

<!-- withdrawAccount -->
<g id="mWithdrawAccount">
<circle cx="787" cy="404" r="2.8"/><circle cx="786" cy="489" r="2.8"/>
<g id="c233" class="c"><rect x="777.5" y="415.5" width="18" height="9"/><text x="786.5" y="423">233</text></g>
<g id="c234" class="c"><rect x="763.5" y="433.5" width="18" height="9"/><text x="772.5" y="441">234</text></g>
<g id="c158" class="c"><rect x="791.5" y="433.5" width="18" height="9"/><text x="800.5" y="441">158</text></g>
<g id="c236" class="c"><rect x="763.5" y="451.5" width="18" height="9"/><text x="772.5" y="459">236</text></g>
<g id="c237" class="c"><rect x="763.5" y="469.5" width="18" height="9"/><text x="772.5" y="477">237</text></g>
<circle cx="814" cy="490" r="2.8"/><text class="t" x="818" y="493">withdrawAccount()</text>
<circle cx="786" cy="594" r="2.8"/><text class="te" x="780" y="597">withdraw()</text>
<circle cx="813" cy="594" r="2.8"/>
<rect class="fr" x="772" y="551" width="29" height="20"/>
<g id="s23" class="n"><rect x="805" y="502" width="18" height="9"/><text x="814" y="508">s<tspan class="s" dy="2">23</tspan></text></g>
<g id="g23" class="n"><rect x="790.5" y="528" width="18" height="9"/><text x="799.5" y="534">g<tspan class="s" dy="2">23</tspan></text></g>
<g id="e23a" class="n er"><rect x="818" y="528.5" width="18" height="9"/><text x="827" y="535.3">error</text></g>
<g id="a23" class="n"><rect x="777.5" y="556" width="18" height="9"/><text x="786.5" y="562">a<tspan class="s" dy="2">23</tspan></text></g>
<g id="e23b" class="n er"><rect x="804" y="556.5" width="18" height="9"/><text x="813" y="563.3">error</text></g>
</g>

<g id="mWithdraw">
<circle cx="787" cy="699" r="2.8"/>
<g id="s3" class="n"><rect x="777.5" y="606" width="18" height="9"/><text x="786.5" y="612">s<tspan class="s" dy="2">3</tspan></text></g>
<g id="g3" class="n"><rect x="763.5" y="633" width="18" height="9"/><text x="772.5" y="639">g<tspan class="s" dy="2">3</tspan></text></g>
<g id="e3a" class="n er"><rect x="790.5" y="633" width="18" height="9"/><text x="799.5" y="639.8">error</text></g>
<g id="a3" class="n"><rect x="750" y="660.5" width="18" height="9"/><text x="759" y="666.5">a<tspan class="s" dy="2">3</tspan></text></g>
<g id="e3b" class="n er"><rect x="777.5" y="660.5" width="18" height="9"/><text x="786.5" y="667.3">error</text></g>
</g>
</svg>
